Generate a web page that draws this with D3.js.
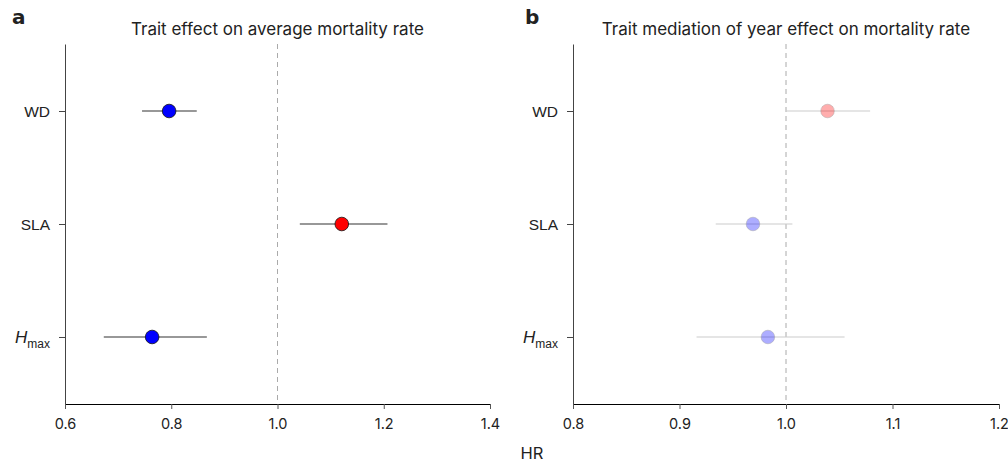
<!DOCTYPE html>
<html lang="en">
<head>
<meta charset="UTF-8">
<title>Trait effects on mortality</title>
<script src="https://cdn.jsdelivr.net/npm/d3@7.8.4/dist/d3.min.js"></script>
<style>
    body { margin: 0; background: #fff; font-family: Inter, "Noto Sans", Arial, sans-serif; }
    svg text { fill: #222; }
</style>
</head>
<body>
<svg id="chart" width="1008" height="463"></svg>
<script>
    // Data
    const traits = ["WD", "SLA", "Hmax"];

    // panel a: average mortality rate
    const hrA = [0.796, 1.121, 0.764];
    const lowA = [0.745, 1.042, 0.673];
    const highA = [0.848, 1.207, 0.867];
    const colA = ["#0000ff", "#ff0000", "#0000ff"];

    // panel b: mediation of year effect
    const hrB = [1.039, 0.969, 0.983];
    const lowB = [1.000, 0.934, 0.916];
    const highB = [1.079, 1.006, 1.055];
    const colB = ["#ff0000", "#0000ff", "#0000ff"];

    const ticksA = [0.6, 0.8, 1.0, 1.2, 1.4];
    const ticksB = [0.8, 0.9, 1.0, 1.1, 1.2];

    const svg = d3.select("#chart");
    const plotTop = 44, plotBottom = 404;

    const panels = [
        { letter: "a", title: "Trait effect on average mortality rate", x0: 65, x1: 490, lx: 12,
          domain: [0.6, 1.4], ticks: ticksA, hr: hrA, lo: lowA, hi: highA, col: colA, faded: false },
        { letter: "b", title: "Trait mediation of year effect on mortality rate", x0: 573, x1: 999, lx: 525,
          domain: [0.8, 1.2], ticks: ticksB, hr: hrB, lo: lowB, hi: highB, col: colB, faded: true }
    ];

    const y = d3.scalePoint().domain(traits).range([plotTop, plotBottom]).padding(0.593);

    panels.forEach(p => {
        const x = d3.scaleLinear().domain(p.domain).range([p.x0, p.x1]);
        const g = svg.append("g");

        // panel letter + title
        g.append("text").attr("x", p.lx).attr("y", 24)
            .style("font-size", "20px").style("font-weight", "900")
            .style("font-family", "'DejaVu Sans', Arial, sans-serif")
            .text(p.letter);
        g.append("text").attr("x", (p.x0 + p.x1) / 2).attr("y", 35)
            .attr("text-anchor", "middle").style("font-size", "17px")
            .text(p.title);

        // reference line at HR = 1
        g.append("line")
            .attr("x1", x(1)).attr("x2", x(1)).attr("y1", plotTop).attr("y2", plotBottom)
            .attr("stroke", "#aaa").attr("stroke-dasharray", "5,4");

        // x axis
        const xa = g.append("g").attr("transform", `translate(0,${plotBottom})`)
            .call(d3.axisBottom(x).tickValues(p.ticks).tickFormat(d3.format(".1f")).tickSize(5).tickSizeOuter(5));
        xa.select(".domain").attr("stroke", "#000");
        xa.selectAll(".tick line").attr("stroke", "#555");
        xa.selectAll("text").style("font-size", "14.5px").attr("dy", "1.2em")
            .style("font-family", "Inter, 'Noto Sans', Arial, sans-serif");

        // y axis
        const ya = g.append("g").attr("transform", `translate(${p.x0},0)`)
            .call(d3.axisLeft(y).tickSize(6).tickSizeOuter(0).tickFormat(""));
        ya.select(".domain").attr("stroke", "#444");
        ya.selectAll(".tick line").attr("stroke", "#444");
        ya.selectAll(".tick").each(function(d) {
            const t = d3.select(this).append("text")
                .attr("x", -15).attr("dy", "0.35em").attr("text-anchor", "end")
                .style("font-size", "15.5px").attr("fill", "#222");
            if (d === "Hmax") {
                t.append("tspan").style("font-style", "italic").style("font-size", "17px").text("H");
                t.append("tspan").attr("dy", "0.4em").style("font-size", "12px").text("max");
            } else {
                t.text(d);
            }
        });

        // error bars
        g.selectAll(".ci").data(traits).enter().append("line")
            .attr("x1", (d, i) => x(p.lo[i])).attr("x2", (d, i) => x(p.hi[i]))
            .attr("y1", d => y(d)).attr("y2", d => y(d))
            .attr("stroke", p.faded ? "#ccc" : "#333").attr("stroke-width", 1.2);

        // points
        g.selectAll(".pt").data(traits).enter().append("circle")
            .attr("cx", (d, i) => x(p.hr[i])).attr("cy", d => y(d)).attr("r", 6.8)
            .attr("fill", (d, i) => p.col[i])
            .attr("fill-opacity", p.faded ? 0.32 : 1)
            .attr("stroke", p.faded ? "#999" : "#111")
            .attr("stroke-opacity", p.faded ? 0.5 : 1)
            .attr("stroke-width", 0.8);
    });

    svg.append("text").attr("x", 532).attr("y", 459)
        .attr("text-anchor", "middle").style("font-size", "16.5px").text("HR");
</script>
</body>
</html>
